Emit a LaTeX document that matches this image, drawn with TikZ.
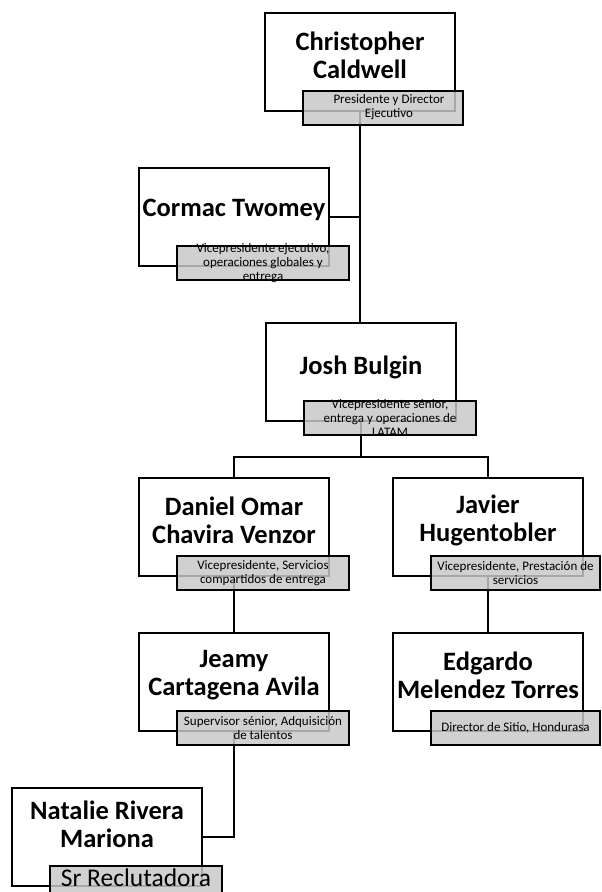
\documentclass[tikz,border=0pt]{standalone}
\usepackage{fontspec}
\setmainfont{Carlito}
\usetikzlibrary{calc}
\tikzset{
  mainbox/.style={draw=black, line width=2pt, fill=white, minimum width=190pt, minimum height=98pt, inner sep=0pt},
  titlebox/.style={draw=black, line width=2pt, fill={rgb,255:red,200;green,200;blue,200}, fill opacity=0.84, draw opacity=1, minimum width=172pt, minimum height=34pt, inner sep=0pt, anchor=north west},
  nametext/.style={font=\bfseries\fontsize{26.5}{28}\selectfont, align=center, inner sep=0pt},
  roletext/.style={font=\fontsize{13}{14}\selectfont, align=center, inner sep=0pt},
  conn/.style={draw=black, line width=2pt}
}
\begin{document}
\begin{tikzpicture}[x=1pt,y=-1pt]
\useasboundingbox (0,0) rectangle (602,892);
% main boxes
\node[mainbox] (b1) at (360,61.5) {};
\node[mainbox] (b2) at (234,217) {};
\node[mainbox] (b3) at (361,372) {};
\node[mainbox] (b4) at (234,527) {};
\node[mainbox] (b5) at (488,527) {};
\node[mainbox] (b6) at (234,682) {};
\node[mainbox] (b7) at (488,682) {};
\node[mainbox] (b8) at (107,837) {};
% connectors
\coordinate (br) at (361,457);
\draw[conn] (b1.south) -- (b1.south |- b3.north);
\draw[conn] (b2.east) -- (b2.east -| b1.south);
\draw[conn] (b3.south) -- (br);
\draw[conn] (b4.north) |- (br) -| (b5.north);
\draw[conn] (b4.south) -- (b6.north);
\draw[conn] (b5.south) -- (b7.north);
\draw[conn] (b6.south) |- (b8.east);
% title boxes
\node[titlebox, minimum width=160pt] (t1) at ($(b1.south west)+(38,-22)$) {};
\node[titlebox] (t2) at ($(b2.south west)+(38,-22)$) {};
\node[titlebox] (t3) at ($(b3.south west)+(38,-22)$) {};
\node[titlebox] (t4) at ($(b4.south west)+(38,-22)$) {};
\node[titlebox, minimum width=169pt] (t5) at ($(b5.south west)+(38,-22)$) {};
\node[titlebox] (t6) at ($(b6.south west)+(38,-22)$) {};
\node[titlebox, minimum width=169pt] (t7) at ($(b7.south west)+(38,-22)$) {};
\node[titlebox] (t8) at ($(b8.south west)+(38,-22)$) {};
% names
\node[nametext] (n1) at ($(b1.center)+(0,-6)$) {Christopher\\Caldwell};
\node[nametext] (n2) at ($(b2.center)+(0,-7)$) {Cormac Twomey};
\node[nametext] (n3) at ($(b3.center)+(0,-5)$) {Josh Bulgin};
\node[nametext] (n4) at ($(b4.center)+(0,-7)$) {Daniel Omar\\Chavira Venzor};
\node[nametext] (n5) at ($(b5.center)+(0,-7)$) {Javier\\Hugentobler};
\node[nametext] (n6) at ($(b6.center)+(0,-7)$) {Jeamy\\Cartagena Avila};
\node[nametext] (n7) at ($(b7.center)+(0,-7)$) {Edgardo\\Melendez Torres};
\node[nametext] (n8) at ($(b8.center)+(0,-13)$) {Natalie Rivera\\Mariona};
% roles
\node[roletext] (r1) at ($(t1.center)+(6,0)$) {Presidente y Director\\Ejecutivo};
\node[roletext] (r2) at (t2.center) {Vicepresidente ejecutivo,\\operaciones globales y\\entrega};
\node[roletext] (r3) at (t3.center) {Vicepresidente sénior,\\entrega y operaciones de\\LATAM};
\node[roletext] (r4) at (t4.center) {Vicepresidente, Servicios\\compartidos de entrega};
\node[roletext] (r5) at (t5.center) {Vicepresidente, Prestación de\\servicios};
\node[roletext] (r6) at (t6.center) {Supervisor sénior, Adquisición\\de talentos};
\node[roletext] (r7) at (t7.center) {Director de Sitio, Hondurasa};
\node[roletext, font=\fontsize{25.5}{30}\selectfont, anchor=base, text depth=0pt] (r8) at ($(t8.north)+(0,21)$) {Sr Reclutadora};
\end{tikzpicture}
\end{document}
